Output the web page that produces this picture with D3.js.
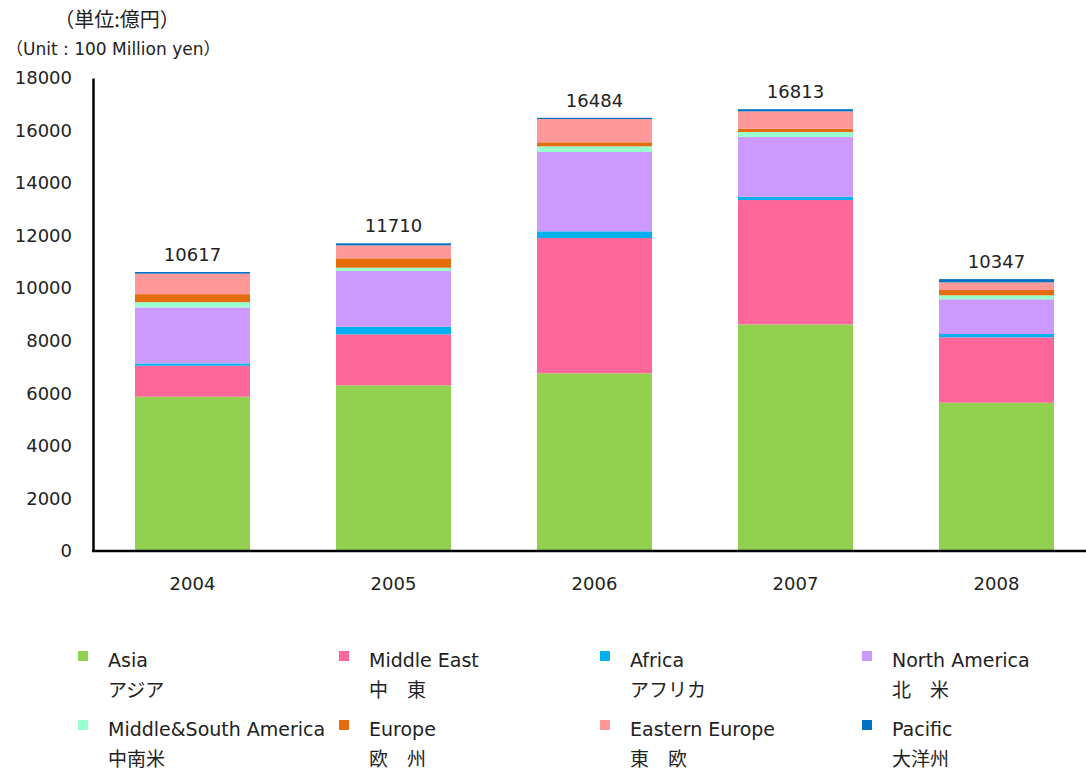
<!DOCTYPE html>
<html>
<head>
<meta charset="utf-8">
<script src="https://cdn.jsdelivr.net/npm/d3@7"></script>
<style>
body{margin:0;background:#fff;}
text{font-family:"DejaVu Sans","Noto Sans CJK JP",sans-serif;fill:#222;}
.jp{font-family:"Noto Sans CJK JP",sans-serif;}
.unit{font-family:"DejaVu Sans","Noto Sans CJK JP",sans-serif;}
</style>
</head>
<body>
<svg width="1086" height="771"></svg>
<script>
const years=["2004","2005","2006","2007","2008"];
const totals=[10617,11710,16484,16813,10347];
const asia=[5870,6305,6762,8626,5643];
const middleEast=[1180,1941,5148,4730,2489];
const africa=[90,289,255,126,125];
const northAmerica=[2130,2119,3018,2271,1321];
const midSouthAmerica=[200,126,217,191,152];
const europe=[304,358,152,125,202];
const easternEurope=[780,494,886,662,293];
const pacific=[63,78,46,82,122];
const yTicks=[0,2000,4000,6000,8000,10000,12000,14000,16000,18000];

const series=[
  {key:"asia",en:"Asia",jp:"アジア",vals:asia,color:"#92D050"},
  {key:"me",en:"Middle East",jp:"中　東",vals:middleEast,color:"#FF6699"},
  {key:"af",en:"Africa",jp:"アフリカ",vals:africa,color:"#00B0F0"},
  {key:"na",en:"North America",jp:"北　米",vals:northAmerica,color:"#CC99FF"},
  {key:"msa",en:"Middle&South America",jp:"中南米",vals:midSouthAmerica,color:"#99FFCC"},
  {key:"eu",en:"Europe",jp:"欧　州",vals:europe,color:"#E46C0A"},
  {key:"ee",en:"Eastern Europe",jp:"東　欧",vals:easternEurope,color:"#FF9999"},
  {key:"pa",en:"Pacific",jp:"大洋州",vals:pacific,color:"#0070C0"}
];

const svg=d3.select("svg");
const table=years.map((y,i)=>{
  const row={year:y};
  series.forEach(s=>row[s.key]=s.vals[i]);
  return row;
});
const stacked=d3.stack().keys(series.map(s=>s.key))(table);

const x=d3.scaleBand().domain(years).range([92,1097]).paddingInner(0.428).paddingOuter(0.214);
const y=d3.scaleLinear().domain([0,18000]).range([551,78]);

// bars
svg.append("g").selectAll("g")
  .data(stacked)
  .enter().append("g")
  .attr("fill",(d,i)=>series[i].color)
  .selectAll("rect")
  .data(d=>d)
  .enter().append("rect")
  .attr("x",d=>x(d.data.year))
  .attr("width",x.bandwidth())
  .attr("y",d=>y(d[1]))
  .attr("height",d=>y(d[0])-y(d[1]));

// totals
svg.append("g").selectAll("text")
  .data(years)
  .enter().append("text")
  .attr("x",d=>x(d)+x.bandwidth()/2)
  .attr("y",(d,i)=>y(totals[i])-11)
  .attr("text-anchor","middle")
  .style("font-size","18px")
  .text((d,i)=>totals[i]);

// y axis
const yAxis=svg.append("g").attr("transform","translate(93,0)")
  .call(d3.axisLeft(y).tickValues(yTicks).tickSize(0).tickPadding(21).tickFormat(d3.format("d")));
yAxis.select(".domain").attr("stroke","#000").attr("stroke-width",2.5);
yAxis.selectAll("text").style("font-size","18px").attr("fill","#222");

// x axis
const xAxis=svg.append("g").attr("transform","translate(0,551)")
  .call(d3.axisBottom(x).tickSize(0).tickPadding(26));
xAxis.select(".domain").attr("d","M92,0H1086").attr("stroke","#000").attr("stroke-width",2.5);
xAxis.selectAll("text").style("font-size","18px").attr("fill","#222");

// unit
svg.append("text").attr("class","jp").attr("x",117).attr("y",27)
  .attr("text-anchor","middle").style("font-size","20px").text("（単位:億円）");
svg.append("text").attr("class","unit").attr("x",6).attr("y",55)
  .style("font-size","17px").text("（Unit : 100 Million yen）");

// legend
const colX=[78,339,600,862];
const rowY=[655,724];
const leg=svg.append("g").selectAll("g")
  .data(series)
  .enter().append("g")
  .attr("transform",(d,i)=>"translate("+colX[i%4]+","+rowY[Math.floor(i/4)]+")");
leg.append("rect").attr("x",0).attr("y",-4).attr("width",10).attr("height",10).attr("fill",d=>d.color);
leg.append("text").attr("x",30).attr("y",12).style("font-size","19px").text(d=>d.en);
leg.append("text").attr("class","jp").attr("x",30).attr("y",42).style("font-size","19px").text(d=>d.jp);
</script>
</body>
</html>
